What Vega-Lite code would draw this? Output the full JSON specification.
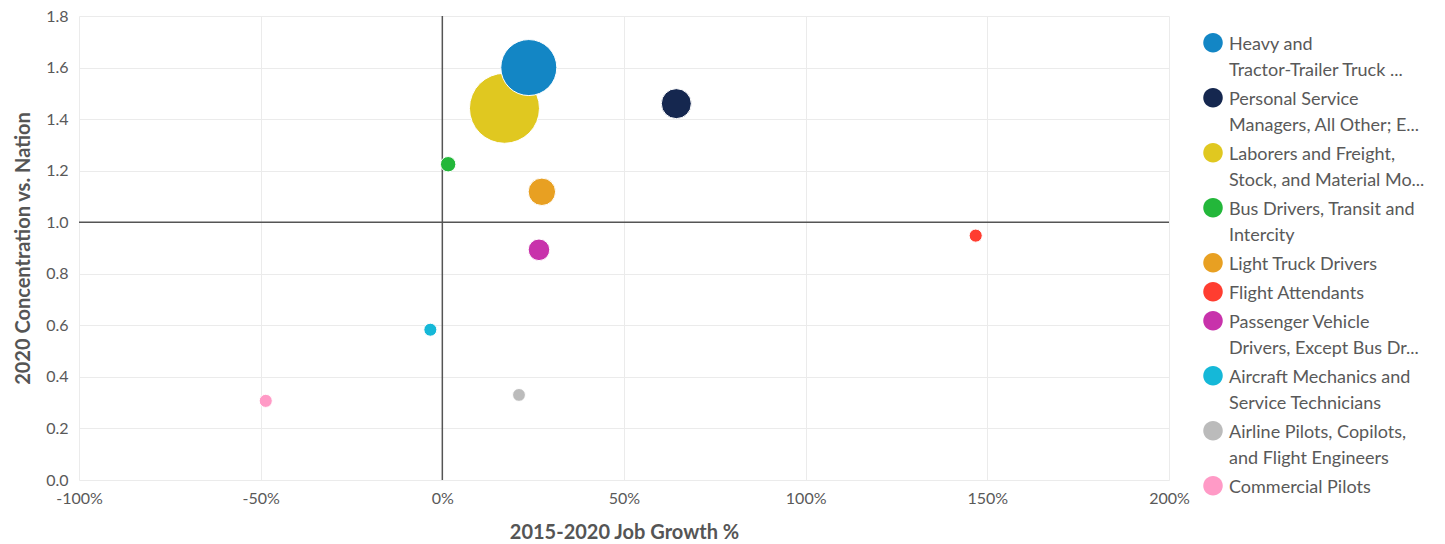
{
  "$schema": "https://vega.github.io/schema/vega-lite/v6.json",
  "width": 1090,
  "height": 464,
  "autosize": {"type": "none"},
  "padding": {"left": 79, "top": 16, "right": 276, "bottom": 64},
  "config": {
    "font": "Lato",
    "view": {"stroke": null},
    "style": {"guide-label": {"lineHeight": 26}},
    "axis": {"gridColor": "#ebebeb", "domain": false, "ticks": false, "labelColor": "#595959", "labelFontSize": 16, "titleColor": "#555555", "titleFontSize": 20, "titleFontWeight": "bold", "labelFlush": false},
    "legend": {"labelColor": "#595959", "labelFontSize": 18}
  },
  "layer": [
    {
      "data": {"values": [{"Growth": 0}]},
      "mark": {"type": "rule", "color": "#555555", "strokeWidth": 1.5},
      "encoding": {"x": {"field": "Growth", "type": "quantitative"}}
    },
    {
      "data": {"values": [{"Concentration": 1}]},
      "mark": {"type": "rule", "color": "#555555", "strokeWidth": 1.5},
      "encoding": {"y": {"field": "Concentration", "type": "quantitative"}}
    },
    {
      "data": {"values": [
        {"Occupation": "Laborers and Freight, Stock, and Material Movers, Hand", "Growth": 17.1, "Concentration": 1.442, "Jobs": 9800},
        {"Occupation": "Heavy and Tractor-Trailer Truck Drivers", "Growth": 23.8, "Concentration": 1.600, "Jobs": 6160},
        {"Occupation": "Personal Service Managers, All Other; Entertainment and Recreation Managers, Except Gambling; and Managers, All Other", "Growth": 64.4, "Concentration": 1.460, "Jobs": 1550},
        {"Occupation": "Bus Drivers, Transit and Intercity", "Growth": 1.6, "Concentration": 1.225, "Jobs": 180},
        {"Occupation": "Light Truck Drivers", "Growth": 27.4, "Concentration": 1.118, "Jobs": 1240},
        {"Occupation": "Flight Attendants", "Growth": 146.8, "Concentration": 0.948, "Jobs": 45},
        {"Occupation": "Passenger Vehicle Drivers, Except Bus Drivers, Transit and Intercity", "Growth": 26.6, "Concentration": 0.893, "Jobs": 650},
        {"Occupation": "Aircraft Mechanics and Service Technicians", "Growth": -3.3, "Concentration": 0.583, "Jobs": 40},
        {"Occupation": "Airline Pilots, Copilots, and Flight Engineers", "Growth": 21.1, "Concentration": 0.330, "Jobs": 30},
        {"Occupation": "Commercial Pilots", "Growth": -48.6, "Concentration": 0.307, "Jobs": 45}
      ]},
      "mark": {"type": "circle", "opacity": 1, "stroke": "white", "strokeWidth": 1},
      "encoding": {
        "x": {"field": "Growth", "type": "quantitative", "scale": {"domain": [-100, 200], "nice": false},
          "axis": {"values": [-100, -50, 0, 50, 100, 150, 200], "labelExpr": "datum.value + '%'", "title": "2015-2020 Job Growth %", "labelPadding": 10, "titlePadding": 16}},
        "y": {"field": "Concentration", "type": "quantitative", "scale": {"domain": [0, 1.8], "nice": false},
          "axis": {"values": [0, 0.2, 0.4, 0.6, 0.8, 1.0, 1.2, 1.4, 1.6, 1.8], "format": ".1f", "title": "2020 Concentration vs. Nation", "labelPadding": 11, "titlePadding": 12}},
        "size": {"field": "Jobs", "type": "quantitative", "scale": {"domain": [0, 9800], "range": [150, 4900], "zero": false}, "legend": null},
        "color": {"field": "Occupation", "type": "nominal",
          "scale": {
            "domain": ["Heavy and Tractor-Trailer Truck Drivers", "Personal Service Managers, All Other; Entertainment and Recreation Managers, Except Gambling; and Managers, All Other", "Laborers and Freight, Stock, and Material Movers, Hand", "Bus Drivers, Transit and Intercity", "Light Truck Drivers", "Flight Attendants", "Passenger Vehicle Drivers, Except Bus Drivers, Transit and Intercity", "Aircraft Mechanics and Service Technicians", "Airline Pilots, Copilots, and Flight Engineers", "Commercial Pilots"],
            "range": ["#1386c5", "#15274f", "#e0c820", "#23b73a", "#e8a022", "#ff3d30", "#c832ab", "#15b8d8", "#bbbbbb", "#ff9ac6"]
          },
          "legend": {
            "title": null,
            "orient": "none",
            "legendX": 1124,
            "legendY": 10,
            "symbolType": "M -1 0.7 A 1 1 0 1 0 1 0.7 A 1 1 0 1 0 -1 0.7 Z",
            "symbolSize": 380,
            "symbolOpacity": 1,
            "symbolStrokeWidth": 0,
            "labelBaseline": "top",
            "labelOffset": 6,
            "labelLimit": 300,
            "rowPadding": 1,
            "labelExpr": "datum.label == 'Heavy and Tractor-Trailer Truck Drivers' ? ['Heavy and', 'Tractor-Trailer Truck ...'] : indexof(datum.label, 'Personal Service') == 0 ? ['Personal Service', 'Managers, All Other; E...'] : indexof(datum.label, 'Laborers') == 0 ? ['Laborers and Freight,', 'Stock, and Material Mo...'] : indexof(datum.label, 'Bus Drivers') == 0 ? ['Bus Drivers, Transit and', 'Intercity'] : indexof(datum.label, 'Passenger') == 0 ? ['Passenger Vehicle', 'Drivers, Except Bus Dr...'] : indexof(datum.label, 'Aircraft') == 0 ? ['Aircraft Mechanics and', 'Service Technicians'] : indexof(datum.label, 'Airline') == 0 ? ['Airline Pilots, Copilots,', 'and Flight Engineers'] : datum.label"
          }
        }
      }
    }
  ]
}
